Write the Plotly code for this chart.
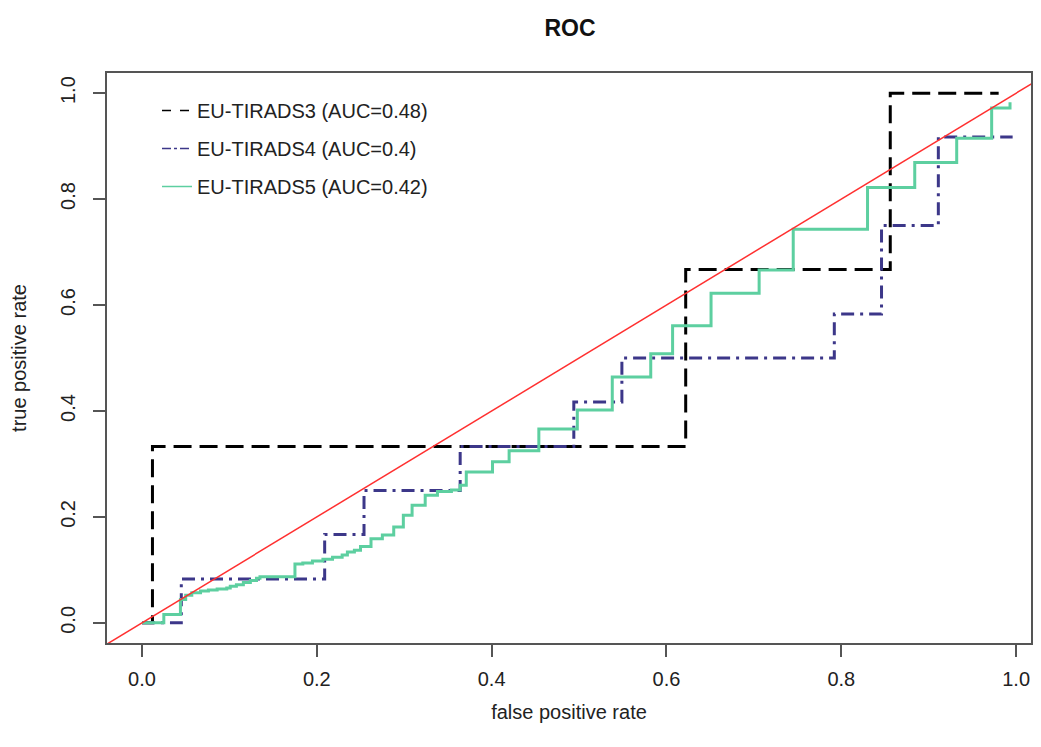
import plotly.graph_objects as go

# ---- data ----
t3_fpr = [0.0, 0.012, 0.622, 0.856, 0.980]
t3_tpr = [0.0, 0.333, 0.667, 1.000, 1.000]

t4_fpr = [0.0, 0.045, 0.209, 0.254, 0.364, 0.494, 0.549, 0.792, 0.846, 0.911, 0.996]
t4_tpr = [0.0, 0.083, 0.167, 0.250, 0.333, 0.417, 0.500, 0.583, 0.750, 0.917, 0.917]

t5_fpr = [0.0, 0.025, 0.044, 0.050, 0.057, 0.067, 0.076, 0.086, 0.097, 0.101, 0.108,
          0.116, 0.124, 0.131, 0.135, 0.175, 0.184, 0.195, 0.207, 0.218, 0.229,
          0.235, 0.243, 0.250, 0.262, 0.275, 0.288, 0.299, 0.309, 0.324, 0.338,
          0.354, 0.364, 0.371, 0.401, 0.420, 0.454, 0.498, 0.538, 0.582, 0.607,
          0.651, 0.706, 0.745, 0.830, 0.884, 0.932, 0.972, 0.993]
t5_tpr = [0.0, 0.016, 0.044, 0.052, 0.057, 0.060, 0.062, 0.064, 0.066, 0.069, 0.072,
          0.076, 0.080, 0.084, 0.087, 0.111, 0.113, 0.117, 0.120, 0.124, 0.128,
          0.134, 0.137, 0.144, 0.159, 0.166, 0.181, 0.203, 0.222, 0.241, 0.248,
          0.251, 0.260, 0.285, 0.304, 0.325, 0.366, 0.402, 0.464, 0.508, 0.561,
          0.622, 0.666, 0.743, 0.822, 0.869, 0.915, 0.972, 0.983]

names = ["EU-TIRADS3 (AUC=0.48)", "EU-TIRADS4 (AUC=0.4)", "EU-TIRADS5 (AUC=0.42)"]
x_ticks = [0.0, 0.2, 0.4, 0.6, 0.8, 1.0]
y_ticks = [0.0, 0.2, 0.4, 0.6, 0.8, 1.0]
x_range = [-0.040, 1.017]
y_range = [-0.038, 1.038]
abline_a, abline_b = 0.0, 1.0   # intercept, slope

# ---- styles ----
FONT = "Liberation Sans, Arial, sans-serif"
c3, c4, c5, cred = "#000000", "#3C3789", "#5DCFA0", "#FF3030"
d3, d4 = "18px,8px", "13px,6px,3px,6px"

# the page body has an 8px margin; keep the figure inside the body's content box
OFF = 8
W, H = 1041 - 2 * OFF, 747 - 2 * OFF

fig = go.Figure()
series = [(t3_fpr, t3_tpr, c3, d3), (t4_fpr, t4_tpr, c4, d4), (t5_fpr, t5_tpr, c5, "solid")]
for (fx, ty, col, dash), nm in zip(series, names):
    fig.add_trace(go.Scatter(x=fx, y=ty, mode="lines", line=dict(color=col, width=3, dash=dash, shape="hv"),
                             showlegend=False, hoverinfo="skip"))

ax = [x_range[0] - 0.1, x_range[1] + 0.1]
fig.add_trace(go.Scatter(x=ax, y=[abline_a + abline_b * v for v in ax], mode="lines",
                         line=dict(color=cred, width=1.5), showlegend=False, hoverinfo="skip"))

# legend entries (thin lines, as in the reference legend)
leg_dash = ["dash", "dashdot", "solid"]
for (fx, ty, col, dash), nm, ld in zip(series, names, leg_dash):
    fig.add_trace(go.Scatter(x=[None], y=[None], mode="lines", name=nm, legendgroup=nm,
                             line=dict(color=col, width=1.5, dash=ld)))

axis_common = dict(showline=True, mirror=True, linecolor="#555555", linewidth=1.5,
                   ticks="outside", ticklen=12, tickwidth=1.5, tickcolor="#555555",
                   showgrid=False, zeroline=False, automargin=False,
                   tickfont=dict(size=20, color="#222222", family=FONT), tickformat=".1f")

# plot box in window pixels: left 107, right 1031, top 73, bottom 643
L, R, T, B = 107 - OFF, W - (1031 - OFF), 73 - OFF, H - (643 - OFF)
plot_w = W - L - R
plot_h = H - T - B

fig.update_layout(
    width=W, height=H,
    margin=dict(l=L, r=R, t=T, b=B),
    paper_bgcolor="white", plot_bgcolor="white",
    font=dict(family=FONT, size=20, color="#222222"),
    title=dict(text="<b>ROC</b>", x=(570 - OFF) / W, xanchor="center", y=1 - (28 - OFF) / H, yanchor="middle",
               font=dict(size=23, color="#111111", family=FONT)),
    xaxis=dict(range=x_range, tickvals=x_ticks, ticklabelstandoff=5,
               title=dict(text="false positive rate", standoff=16, font=dict(size=20, color="#222222")),
               **axis_common),
    yaxis=dict(range=y_range, tickvals=y_ticks, tickangle=-90, ticklabelstandoff=10,
               title=dict(text="true positive rate", standoff=26, font=dict(size=20, color="#222222")),
               **axis_common),
    legend=dict(x=(157 - 107) / plot_w, y=1 - (91 - 73) / plot_h, xanchor="left", yanchor="top",
                bgcolor="rgba(0,0,0,0)", tracegroupgap=9, font=dict(size=20, color="#222222", family=FONT)),
)

fig.write_html("out.html")
